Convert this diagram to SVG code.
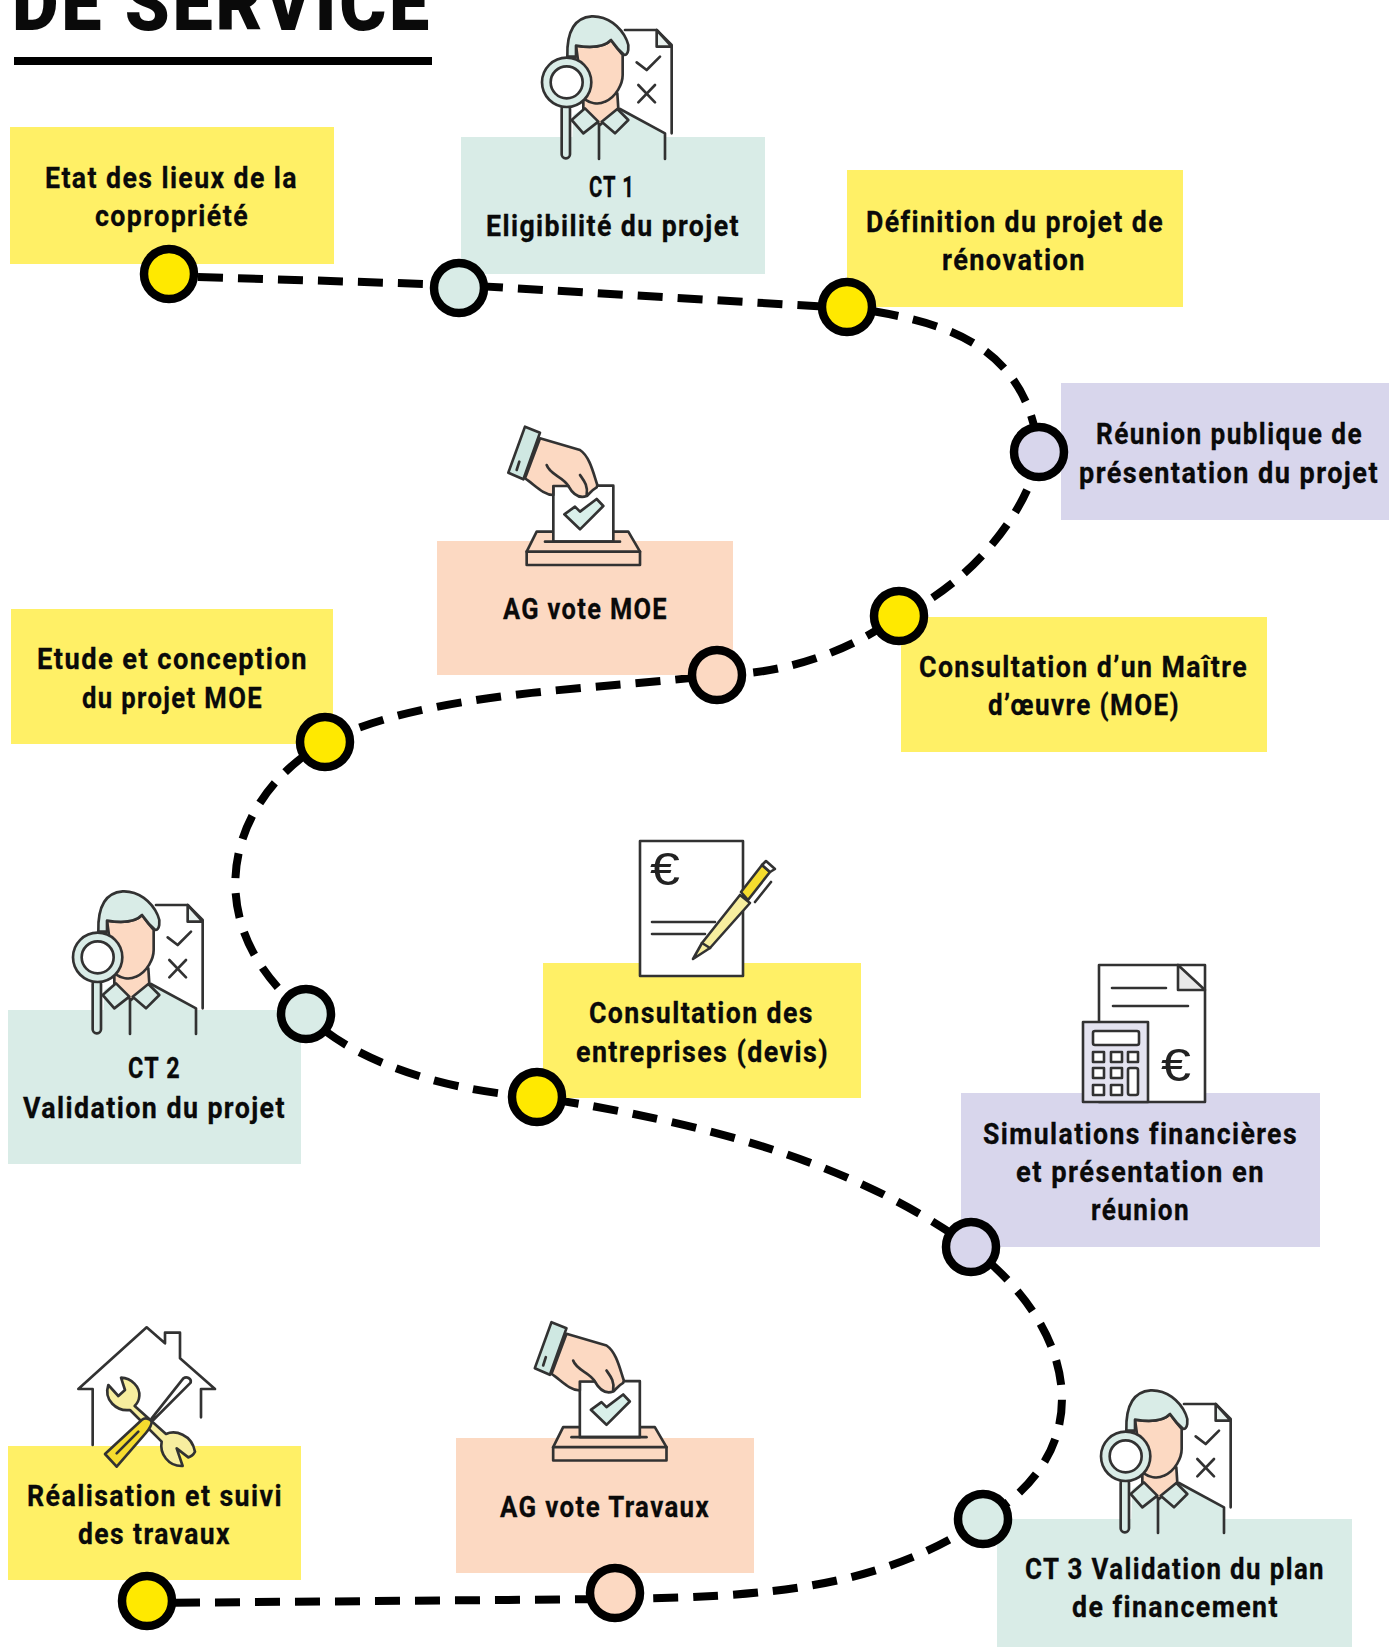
<svg xmlns="http://www.w3.org/2000/svg" width="1389" height="1647" viewBox="0 0 1389 1647">
<style>
text{font-family:"Roboto","Liberation Sans",sans-serif;fill:#0a0a0a}
.t{font-size:30px;font-weight:700;letter-spacing:1.6px;stroke:#0a0a0a;stroke-width:.3}
.title{font-size:78px;font-weight:900;letter-spacing:3px}
.conn{fill:none;stroke:#000;stroke-width:8;stroke-dasharray:25 15}
.dot{stroke:#000;stroke-width:8.5}
.y{fill:#fff066}.g{fill:#d9ece7}.p{fill:#fcd9c2}.l{fill:#d8d6ec}
.ic{stroke:#333;stroke-width:2.6;stroke-linejoin:round;stroke-linecap:round;filter:url(#soft)}
.z{stroke:#333;stroke-width:8;stroke-linejoin:round;stroke-linecap:round}
.ln{fill:none}
.e{font-family:"Liberation Sans",sans-serif;font-size:46px;font-weight:400;fill:#222;letter-spacing:0;filter:url(#soft)}
</style>
<defs>
<filter id="soft" x="-5%" y="-5%" width="110%" height="110%"><feGaussianBlur stdDeviation="0.45"/></filter>
<g id="inspector" class="z" transform="translate(530 5) scale(.33333)">
<path d="M285 75H380L425 120V385H405L290 315Z" fill="#fff" stroke="none"/>
<path class="ln" d="M285 75H380L425 120V385"/>
<path d="M380 75V125H425Z" fill="#e9f2ef"/>
<path class="ln" d="M320 172L350 195L390 155M325 240L375 292M375 240L325 292"/>
<path d="M130 330L160 310H265L405 385V462H125Z" fill="#d9ece7" stroke="none"/>
<path class="ln" d="M270 312L405 385V462M207 360V462"/>
<path d="M160 280V312L210 360L265 312L262 265Z" fill="#fcd9c2"/>
<path d="M138 122C190 130 225 125 243 105C250 115 265 135 278 150V210C278 235 260 275 225 290C205 300 180 295 160 280Z" fill="#fcd9c2"/>
<path d="M112 155C110 85 130 38 185 34C232 32 272 65 290 105C300 125 295 150 283 150C265 135 250 115 243 105C225 125 190 130 138 122V155Z" fill="#d9ece7"/>
<path d="M165 310L125 345L160 385L205 350ZM262 312L295 345L255 385L215 350Z" fill="#d9ece7"/>
<rect x="95" y="300" width="25" height="160" rx="12" fill="#d9ece7"/>
<circle cx="110" cy="232" r="74" fill="#d9ece7"/>
<circle cx="110" cy="232" r="48" fill="#fff"/>
</g>
<g id="vote" class="z" transform="translate(420 400) scale(.33333)">
<path d="M350 395H625L660 455V495H320V455Z" fill="#fcd9c2"/>
<path class="ln" d="M320 455H660"/>
<rect x="400" y="257" width="180" height="168" fill="#fff"/>
<path d="M433 343L465 320L480 335L530 297L550 318L480 388Z" fill="#d9f0ea"/>
<path class="ln" d="M375 425H600"/>
<path d="M360 115L480 150C510 170 520 220 532 255L530 262C515 270 505 285 500 288C480 295 460 285 445 258L400 258V285C370 285 345 255 315 235Z" fill="#fcd9c2"/>
<path class="ln" d="M380 195C390 225 430 230 445 258M480 225C490 240 505 255 500 285"/>
<path d="M315 80L360 98L310 238L265 218Z" fill="#cfe8e2"/>
<path class="ln" d="M298 185L290 210"/>
</g>
</defs>

<g id="title">
<text class="title" x="12" y="30" textLength="420" lengthAdjust="spacingAndGlyphs">DE SERVICE</text>
<rect x="14" y="57" width="418" height="8" fill="#000"/>
</g>

<g id="connectors">
<path class="conn" stroke-dashoffset="11" d="M169 276L459 285"/>
<path class="conn" stroke-dashoffset="21" d="M459 285L847 308"/>
<path class="conn" stroke-dashoffset="13" d="M847 307C930 320 1025 335 1039 452"/>
<path class="conn" d="M1039 452C1030 510 970 585 899 616"/>
<path class="conn" stroke-dashoffset="27" d="M899 616C850 650 790 674 717 675"/>
<path class="conn" stroke-dashoffset="23" d="M717 675C600 690 430 690 325 742"/>
<path class="conn" stroke-dashoffset="15" d="M325 742C225 800 195 925 306 1014"/>
<path class="conn" stroke-dashoffset="14" d="M306 1014C345 1055 430 1090 537 1097"/>
<path class="conn" stroke-dashoffset="23" d="M537 1097C700 1122 850 1160 971 1247"/>
<path class="conn" stroke-dashoffset="16" d="M971 1247C1085 1335 1095 1455 983 1519"/>
<path class="conn" stroke-dashoffset="2" d="M615 1599C760 1597 880 1590 983 1519"/>
<path class="conn" stroke-dashoffset="12" d="M147 1603L615 1599"/>
</g>

<g id="step-etat">
<rect class="y" x="10" y="127" width="324" height="137"/>
<text class="t" x="45" y="188" textLength="253" lengthAdjust="spacingAndGlyphs">Etat des lieux de la</text>
<text class="t" x="95" y="226" textLength="154" lengthAdjust="spacingAndGlyphs">copropriété</text>
<circle class="dot" cx="169" cy="274" r="25" fill="#ffe900"/>
</g>

<g id="step-ct1">
<rect class="g" x="461" y="137" width="304" height="137"/>
<g class="ic"><use href="#inspector"/></g>
<text class="t" x="589" y="197" textLength="46" lengthAdjust="spacingAndGlyphs">CT 1</text>
<text class="t" x="486" y="236" textLength="254" lengthAdjust="spacingAndGlyphs">Eligibilité du projet</text>
<circle class="dot" cx="459" cy="288" r="25" fill="#d9ece7"/>
</g>

<g id="step-definition">
<rect class="y" x="847" y="170" width="336" height="137"/>
<text class="t" x="866" y="232" textLength="298" lengthAdjust="spacingAndGlyphs">Définition du projet de</text>
<text class="t" x="942" y="270" textLength="144" lengthAdjust="spacingAndGlyphs">rénovation</text>
<circle class="dot" cx="847" cy="307" r="25" fill="#ffe900"/>
</g>

<g id="step-reunion">
<rect class="l" x="1061" y="383" width="328" height="137"/>
<text class="t" x="1363" y="444" text-anchor="end" textLength="267" lengthAdjust="spacingAndGlyphs">Réunion publique de</text>
<text class="t" x="1379" y="483" text-anchor="end" textLength="300" lengthAdjust="spacingAndGlyphs">présentation du projet</text>
<circle class="dot" cx="1039" cy="452" r="25" fill="#d8d6ec"/>
</g>

<g id="step-moe-consult">
<rect class="y" x="901" y="617" width="366" height="135"/>
<text class="t" x="919" y="677" textLength="329" lengthAdjust="spacingAndGlyphs">Consultation d’un Maître</text>
<text class="t" x="988" y="715" textLength="192" lengthAdjust="spacingAndGlyphs">d’œuvre (MOE)</text>
<circle class="dot" cx="899" cy="616" r="25" fill="#ffe900"/>
</g>

<g id="step-ag-moe">
<rect class="p" x="437" y="541" width="296" height="134"/>
<g class="ic"><use href="#vote"/></g>
<text class="t" x="503" y="619" textLength="165" lengthAdjust="spacingAndGlyphs">AG vote MOE</text>
<circle class="dot" cx="717" cy="675" r="25" fill="#fcd9c2"/>
</g>

<g id="step-etude">
<rect class="y" x="11" y="609" width="322" height="135"/>
<text class="t" x="37" y="669" textLength="271" lengthAdjust="spacingAndGlyphs">Etude et conception</text>
<text class="t" x="82" y="708" textLength="181" lengthAdjust="spacingAndGlyphs">du projet MOE</text>
<circle class="dot" cx="325" cy="742" r="25" fill="#ffe900"/>
</g>

<g id="step-ct2">
<rect class="g" x="8" y="1010" width="293" height="154"/>
<g class="ic"><use href="#inspector" transform="translate(-469 875)"/></g>
<text class="t" x="128" y="1078" textLength="53" lengthAdjust="spacingAndGlyphs">CT 2</text>
<text class="t" x="23" y="1118" textLength="263" lengthAdjust="spacingAndGlyphs">Validation du projet</text>
<circle class="dot" cx="306" cy="1014" r="25" fill="#d9ece7"/>
</g>

<g id="step-entreprises">
<rect class="y" x="543" y="963" width="318" height="135"/>
<g class="ic">
<rect x="640" y="841" width="103" height="135" fill="#fff"/>
<path class="ln" d="M652 922H715M652 934H705"/>
<path d="M693 959L702 943L740 895L750 903L710 948Z" fill="#f7ee9f"/>
<path class="ln" d="M702 943L710 948M771 882L755 902"/>
<path d="M741 892L762 865L770 872L748 900Z" fill="#f5dc2f"/>
<path d="M762 865L766 861L775 869L770 872Z" fill="#fff"/>
</g>
<text class="e" x="650" y="885" textLength="30" lengthAdjust="spacingAndGlyphs">€</text>
<text class="t" x="589" y="1023" textLength="225" lengthAdjust="spacingAndGlyphs">Consultation des</text>
<text class="t" x="576" y="1062" textLength="253" lengthAdjust="spacingAndGlyphs">entreprises (devis)</text>
<circle class="dot" cx="537" cy="1097" r="25" fill="#ffe900"/>
</g>

<g id="step-simulations">
<rect class="l" x="961" y="1093" width="359" height="154"/>
<g class="ic">
<rect x="1099" y="965" width="106" height="137" fill="#fff"/>
<path d="M1178 965V990H1205Z" fill="#e8e8e8"/>
<path class="ln" d="M1112 988H1166M1113 1006H1188"/>
<rect x="1083" y="1022" width="65" height="80" fill="#e4e3f0"/>
<rect x="1093" y="1031" width="46" height="14" rx="2" fill="#fff"/>
<rect x="1093" y="1052" width="11" height="10" fill="#fff"/>
<rect x="1111" y="1052" width="11" height="10" fill="#fff"/>
<rect x="1128" y="1052" width="10" height="10" fill="#fff"/>
<rect x="1093" y="1068" width="11" height="10" fill="#fff"/>
<rect x="1111" y="1068" width="11" height="10" fill="#fff"/>
<rect x="1128" y="1068" width="10" height="27" rx="2" fill="#fff"/>
<rect x="1093" y="1085" width="11" height="10" fill="#fff"/>
<rect x="1111" y="1085" width="11" height="10" fill="#fff"/>
</g>
<text class="e" x="1161" y="1081" textLength="30" lengthAdjust="spacingAndGlyphs">€</text>
<text class="t" x="983" y="1144" textLength="315" lengthAdjust="spacingAndGlyphs">Simulations financières</text>
<text class="t" x="1016" y="1182" textLength="249" lengthAdjust="spacingAndGlyphs">et présentation en</text>
<text class="t" x="1091" y="1220" textLength="99" lengthAdjust="spacingAndGlyphs">réunion</text>
<circle class="dot" cx="971" cy="1247" r="25" fill="#d8d6ec"/>
</g>

<g id="step-ct3">
<rect class="g" x="997" y="1519" width="355" height="128"/>
<g class="ic"><use href="#inspector" transform="translate(559 1374)"/></g>
<text class="t" x="1025" y="1579" textLength="300" lengthAdjust="spacingAndGlyphs">CT 3 Validation du plan</text>
<text class="t" x="1072" y="1617" textLength="207" lengthAdjust="spacingAndGlyphs">de financement</text>
<circle class="dot" cx="983" cy="1519" r="25" fill="#d9ece7"/>
</g>

<g id="step-ag-travaux">
<rect class="p" x="456" y="1438" width="298" height="135"/>
<g class="ic"><use href="#vote" transform="translate(26.5 895.5)"/></g>
<text class="t" x="500" y="1517" textLength="210" lengthAdjust="spacingAndGlyphs">AG vote Travaux</text>
<circle class="dot" cx="615" cy="1593" r="25" fill="#fcd9c2"/>
</g>

<g id="step-realisation">
<rect class="y" x="8" y="1446" width="293" height="134"/>
<g class="ic">
<g class="z" transform="translate(60 1310) scale(.33333)">
<path class="ln" d="M98 405V237H55L260 52L315 100V68H360V145L465 237H423V322"/>
<path d="M183 203C215 205 240 230 238 258C237 272 232 280 224 288L318 372C345 360 395 372 405 425C400 435 395 440 385 442L350 415L368 468C325 470 298 430 305 395L210 300C170 305 130 270 145 225L175 258L195 240Z" fill="#f7ee9f"/>
<path d="M245 330C255 322 270 325 275 335C275 350 265 360 255 372L170 470L135 432Z" fill="#f5dc2f"/>
<path class="ln" d="M235 365L170 430"/>
<path d="M275 325L370 205C380 198 395 205 392 218L280 330Z" fill="#fff"/>
</g>
</g>
<text class="t" x="27" y="1506" textLength="256" lengthAdjust="spacingAndGlyphs">Réalisation et suivi</text>
<text class="t" x="78" y="1544" textLength="153" lengthAdjust="spacingAndGlyphs">des travaux</text>
<circle class="dot" cx="147" cy="1601" r="25" fill="#ffe900"/>
</g>
</svg>
